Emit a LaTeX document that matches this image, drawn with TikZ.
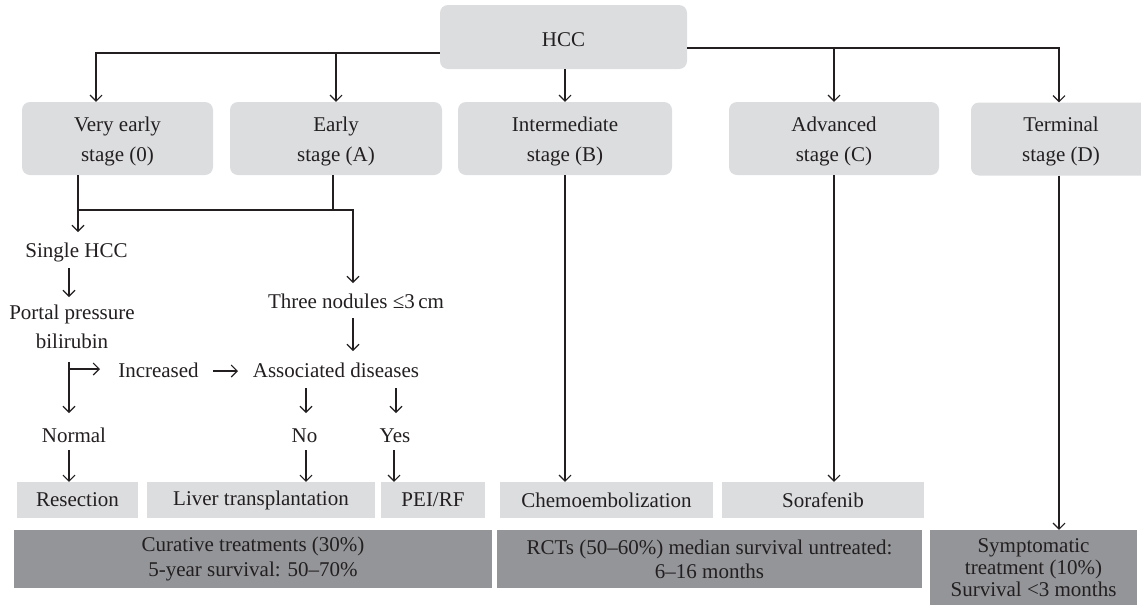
\documentclass[tikz,border=0pt]{standalone}
\usepackage{fontspec}
\setmainfont{Liberation Serif}
\usetikzlibrary{arrows.meta}
\definecolor{lightbox}{HTML}{DCDDDF}
\definecolor{darkbox}{HTML}{939598}
\definecolor{ink}{HTML}{231F20}
\newcommand{\topstrut}{\rule{0pt}{20.5pt}}
\tikzset{
  stagebox/.style={fill=lightbox, rounded corners=8pt, minimum height=73pt, inner sep=0pt, align=center, font=\fontsize{21}{30}\selectfont, text=ink},
  treatbox/.style={fill=lightbox, minimum height=36pt, inner sep=0pt, font=\fontsize{21}{25}\selectfont, text=ink},
  sumbox/.style={fill=darkbox, inner sep=0pt, align=center, text=ink},
  lbl/.style={inner sep=0pt, anchor=base, font=\fontsize{21}{25}\selectfont, text=ink},
  conn/.style={draw=ink, line width=1.1pt},
  arr/.style={conn, -{Straight Barb[length=6pt,width=12pt]}},
}
\begin{document}
\begin{tikzpicture}[x=1pt,y=-1pt]
\useasboundingbox (0,0) rectangle (1141,606);
% top
\node[stagebox, minimum width=247pt, minimum height=64pt] (hcc) at (563.5,37) {\rule{0pt}{19pt}HCC};
\node[stagebox, minimum width=191pt] (ve) at (117.5,138.5) {\topstrut Very early\\stage (0)};
\node[stagebox, minimum width=212pt] (ea) at (336,138.5) {\topstrut Early\\stage (A)};
\node[stagebox, minimum width=214pt] (im) at (565,138.5) {\topstrut Intermediate\\stage (B)};
\node[stagebox, minimum width=210pt] (ad) at (834,138.5) {\topstrut Advanced\\stage (C)};
\node[stagebox, minimum width=180pt] (te) at (1061,139) {\topstrut Terminal\\stage (D)};
% labels
\node[lbl] (single) at (76.5,257) {Single HCC};
\node[lbl] (portal) at (72,319) {Portal pressure};
\node[lbl] (bili) at (72,348) {bilirubin};
\node[lbl] (incr) at (158.5,377) {Increased};
\node[lbl] (assoc) at (336,377) {Associated diseases};
\node[lbl] (three) at (356,308) {Three nodules ≤3\,cm};
\node[lbl] (normal) at (74,442) {Normal};
\node[lbl] (no) at (304.5,442) {No};
\node[lbl] (yes) at (395,442) {Yes};
% treatments
\node[treatbox, minimum width=121pt] (res) at (77.5,500) {Resection};
\node[treatbox, minimum width=228pt] (liver) at (261,500) {Liver transplantation};
\node[treatbox, minimum width=104pt] (pei) at (433,500) {PEI/RF};
\node[treatbox, minimum width=213pt] (chemo) at (606.5,500) {Chemoembolization};
\node[treatbox, minimum width=202pt] (sora) at (823,500) {Sorafenib};
% summaries
\node[sumbox, minimum width=478pt, minimum height=58pt, font=\fontsize{21}{25}\selectfont] (cur) at (253,559) {Curative treatments (30\%)\\5-year survival: 50–70\%};
\node[sumbox, minimum width=425pt, minimum height=58pt, font=\fontsize{21}{24}\selectfont] (rct) at (709.5,559) {RCTs (50–60\%) median survival untreated:\\6–16 months};
\node[sumbox, minimum width=207pt, minimum height=75pt, font=\fontsize{21}{22}\selectfont] (sym) at (1033.5,567.5) {Symptomatic\\treatment (10\%)\\Survival <3 months};
% junctions
\coordinate (jl) at (96,53);
\coordinate (jr) at (1059,48);
\coordinate (ka) at (78,210);
\coordinate (kc) at (333,210);
\coordinate (kb) at (353,210);
% top connectors
\draw[arr] (hcc.west |- jl) -- (jl) -- (jl |- ve.north);
\draw[arr] (ea.north |- jl) -- (ea.north);
\draw[arr] (hcc.east |- jr) -- (jr) -- (jr |- te.north);
\draw[arr] (ad.north |- jr) -- (ad.north);
\draw[arr] (hcc.south -| im.north) -- (im.north);
% early branches
\coordinate (t1) at (78,232);
\coordinate (t2) at (353,283);
\draw[conn] (ea.south -| kc) -- (kc);
\draw[arr] (ve.south -| ka) -- (ka |- t1);
\draw[arr] (ka) -- (kb) -- (t2);
% glyph-like arrows
\coordinate (a1) at (69,268); \coordinate (b1) at (69,297);
\draw[arr] (a1) -- (b1);
\coordinate (a2) at (69,362); \coordinate (b2) at (69,413);
\draw[arr] (a2) -- (b2);
\coordinate (a3) at (69,369); \coordinate (b3) at (100,369);
\draw[arr] (a3) -- (b3);
\coordinate (a4) at (213,371); \coordinate (b4) at (238,371);
\draw[arr] (a4) -- (b4);
\coordinate (a5) at (353,318); \coordinate (b5) at (353,351);
\draw[arr] (a5) -- (b5);
\coordinate (a6) at (306,388); \coordinate (b6) at (306,413);
\draw[arr] (a6) -- (b6);
\coordinate (a7) at (396,388); \coordinate (b7) at (396,413);
\draw[arr] (a7) -- (b7);
\coordinate (a8) at (69,450);
\draw[arr] (a8) -- (a8 |- res.north);
\coordinate (a9) at (306,450);
\draw[arr] (a9) -- (a9 |- liver.north);
\coordinate (a10) at (394,450);
\draw[arr] (a10) -- (a10 |- pei.north);
% long arrows
\draw[arr] (im.south) -- (im.south |- chemo.north);
\draw[arr] (ad.south) -- (ad.south |- sora.north);
\draw[arr] (te.south -| jr) -- (jr |- sym.north);
\end{tikzpicture}
\end{document}
